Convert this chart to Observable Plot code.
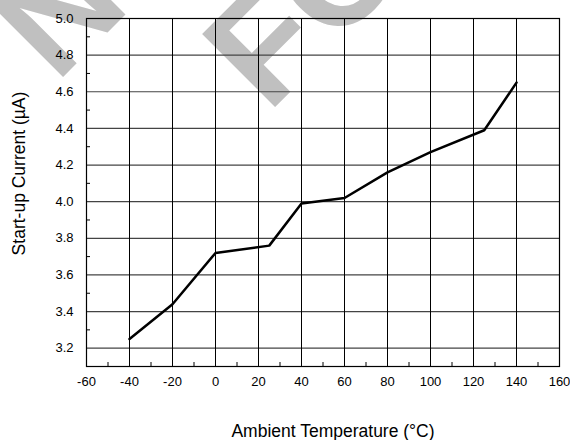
<!DOCTYPE html>
<html>
<head>
<meta charset="utf-8">
<script src="https://cdn.jsdelivr.net/npm/d3@7"></script>
<script src="https://cdn.jsdelivr.net/npm/@observablehq/plot@0.6"></script>
<style>
  body { margin: 0; background: white; }
  #wrap { position: relative; width: 570px; height: 440px; overflow: hidden; }
  #wm, #chart { position: absolute; left: 0; top: 0; }
</style>
</head>
<body>
<div id="wrap">
  <svg id="wm" width="570" height="440">
    <g fill="#c0c0c0" font-family="Liberation Sans, Arial, sans-serif" font-weight="bold" font-size="150">
      <text transform="translate(56,84) rotate(-45)">NOT RECOMMENDED</text>
      <text transform="translate(268,114) rotate(-45)">FOR NEW DESIGNS</text>
    </g>
  </svg>
  <div id="chart"></div>
</div>
<script>
// Data
const tempC = [-40, -20, 0, 25, 40, 60, 80, 100, 125, 140];
const currentUA = [3.25, 3.44, 3.72, 3.76, 3.99, 4.02, 4.16, 4.27, 4.39, 4.65];

// Axis ticks
const xTicks = [-60, -40, -20, 0, 20, 40, 60, 80, 100, 120, 140, 160];
const xMinorTicks = [-50, -30, -10, 10, 30, 50, 70, 90, 110, 130, 150];
const yTicks = [3.2, 3.4, 3.6, 3.8, 4.0, 4.2, 4.4, 4.6, 4.8, 5.0];
const yMinorTicks = [3.1, 3.3, 3.5, 3.7, 3.9, 4.1, 4.3, 4.5, 4.7, 4.9];

const xTitle = "Ambient Temperature (°C)";
const yTitle = "Start-up Current (µA)";

const rows = tempC.map((t, i) => ({t, c: currentUA[i]}));

const chart = Plot.plot({
  width: 570,
  height: 440,
  marginLeft: 86,
  marginRight: 11,
  marginTop: 18,
  marginBottom: 74,
  style: {fontFamily: "Liberation Sans, Arial, sans-serif", fontSize: "13px", background: "transparent", color: "black"},
  x: {domain: [-60, 160]},
  y: {domain: [3.1, 5.0]},
  marks: [
    Plot.gridY(yTicks, {stroke: "#444", strokeOpacity: 1, strokeWidth: 1.2}),
    Plot.gridX(xTicks, {stroke: "black", strokeOpacity: 1, strokeWidth: 1}),
    Plot.axisY(yMinorTicks, {anchor: "left", tickSize: -4, tickFormat: () => "", label: null, strokeOpacity: 1}),
    Plot.axisX(xMinorTicks, {anchor: "bottom", tickSize: -4, tickFormat: () => "", label: null, strokeOpacity: 1}),
    Plot.axisY(yTicks, {anchor: "left", tickSize: 0, tickPadding: 13, tickFormat: d => d.toFixed(1), label: null, fontSize: 13}),
    Plot.axisX(xTicks, {anchor: "bottom", tickSize: 0, tickPadding: 10, tickFormat: d => String(d), label: null, fontSize: 13}),
    Plot.frame({stroke: "black", strokeWidth: 1.2}),
    Plot.line(rows, {x: "t", y: "c", stroke: "black", strokeWidth: 2.5, strokeLinejoin: "miter"}),
    Plot.text([xTitle], {text: d => d, frameAnchor: "bottom", textAnchor: "middle", lineAnchor: "middle", dx: 10, dy: 65, fontSize: 17.5}),
    Plot.text([yTitle], {text: d => d, frameAnchor: "left", textAnchor: "middle", lineAnchor: "middle", rotate: -90, dx: -67.5, dy: -19, fontSize: 17.5})
  ]
});
document.getElementById("chart").appendChild(chart);
</script>
</body>
</html>
